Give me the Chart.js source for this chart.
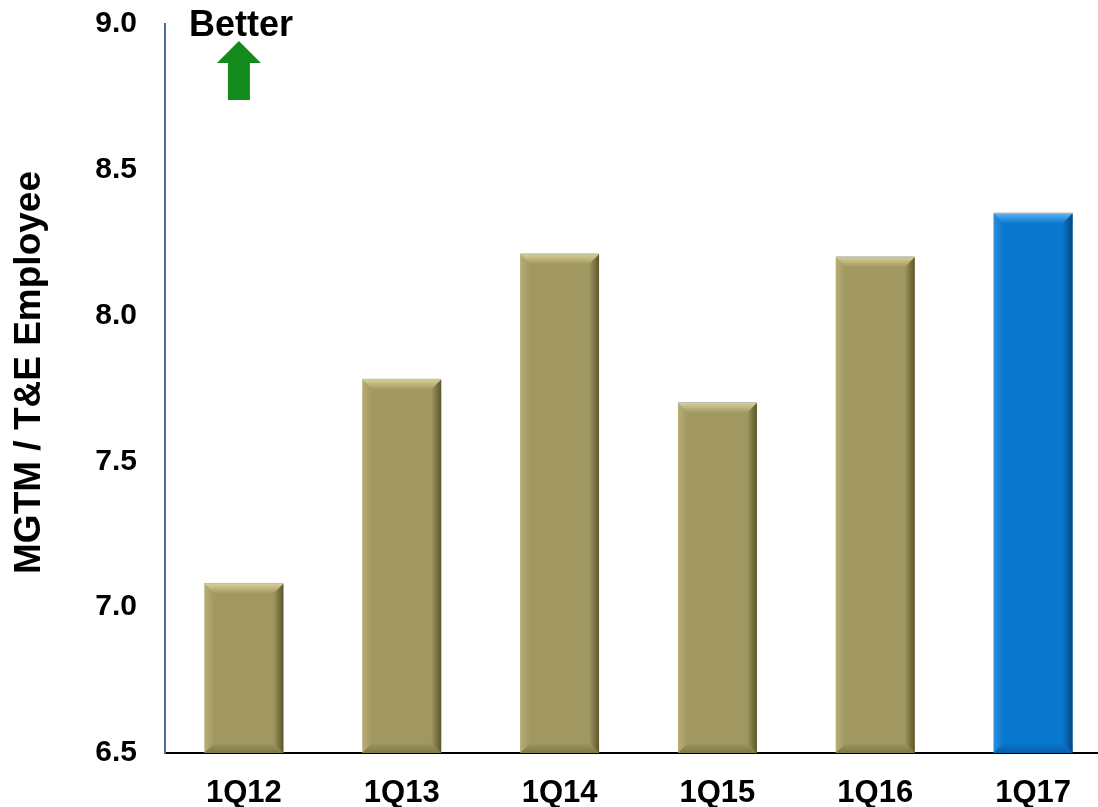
<!DOCTYPE html>
<html>
<head>
<meta charset="utf-8">
<script src="https://cdn.jsdelivr.net/npm/chart.js@4/dist/chart.umd.min.js"></script>
<style>
  html, body { margin: 0; padding: 0; background: #fff; overflow: hidden; }
  /* canvas is taller than the page; the extra top room holds the tick label space */
  #wrap { position: relative; width: 1112px; height: 829px; margin-top: -22px; }
</style>
</head>
<body>
<div id="wrap"><canvas id="mgtmChart"></canvas></div>
<script>
// quarters and MGTM per T&E employee
const quarters = ["1Q12", "1Q13", "1Q14", "1Q15", "1Q16", "1Q17"];
const mgtmPerEmployee = [7.08, 7.78, 8.21, 7.70, 8.20, 8.35];
const yTickValues = [6.5, 7.0, 7.5, 8.0, 8.5, 9.0];
const yTitle = "MGTM / T&E Employee";

const FONT = "'Liberation Sans', Arial, sans-serif";
const OLIVE = { face: "#a09860", light: "#d6ce94", dark: "#5c572c" };
const BLUE = { face: "#0a78cf", light: "#5ab2f2", dark: "#064482" };

function barTheme(i) {
  return i === quarters.length - 1 ? BLUE : OLIVE;
}

// bevelled edges on every bar, like the office-style 3d bars
const bevelPlugin = {
  id: "bevel",
  afterDatasetsDraw(chart) {
    const ctx = chart.ctx;
    const area = chart.chartArea;
    const meta = chart.getDatasetMeta(0);
    meta.data.forEach((bar, i) => {
      const p = bar.getProps(["x", "y", "width", "base"], true);
      const l = p.x - p.width / 2, r = p.x + p.width / 2, t = p.y;
      const b = Math.min(p.base, area.bottom);
      const d = 10;
      const th = barTheme(i);
      ctx.save();
      ctx.beginPath();
      ctx.rect(area.left, area.top - 2, area.right - area.left, area.bottom - area.top + 2);
      ctx.clip();
      // top face
      let g = ctx.createLinearGradient(0, t, 0, t + d);
      g.addColorStop(0, th.light);
      g.addColorStop(1, th.face);
      ctx.fillStyle = g;
      ctx.beginPath();
      ctx.moveTo(l, t); ctx.lineTo(r, t); ctx.lineTo(r - d, t + d); ctx.lineTo(l + d, t + d);
      ctx.closePath(); ctx.fill();
      // left face
      g = ctx.createLinearGradient(l, 0, l + d, 0);
      g.addColorStop(0, th.light);
      g.addColorStop(1, th.face);
      ctx.globalAlpha = 0.4;
      ctx.fillStyle = g;
      ctx.beginPath();
      ctx.moveTo(l, t); ctx.lineTo(l + d, t + d); ctx.lineTo(l + d, b - d); ctx.lineTo(l, b);
      ctx.closePath(); ctx.fill();
      ctx.globalAlpha = 1;
      // right face
      g = ctx.createLinearGradient(r - d, 0, r, 0);
      g.addColorStop(0, th.face);
      g.addColorStop(1, th.dark);
      ctx.fillStyle = g;
      ctx.beginPath();
      ctx.moveTo(r, t); ctx.lineTo(r, b); ctx.lineTo(r - d, b - d); ctx.lineTo(r - d, t + d);
      ctx.closePath(); ctx.fill();
      // bottom face
      g = ctx.createLinearGradient(0, b - d, 0, b);
      g.addColorStop(0, th.face);
      g.addColorStop(1, th.dark);
      ctx.globalAlpha = 0.5;
      ctx.fillStyle = g;
      ctx.beginPath();
      ctx.moveTo(l, b); ctx.lineTo(r, b); ctx.lineTo(r - d, b - d); ctx.lineTo(l + d, b - d);
      ctx.closePath(); ctx.fill();
      ctx.globalAlpha = 1;
      // thin outline on top
      ctx.strokeStyle = "#b9b9b0";
      ctx.lineWidth = 1;
      ctx.beginPath();
      ctx.moveTo(l, t - 0.5); ctx.lineTo(r, t - 0.5);
      ctx.stroke();
      ctx.restore();
    });
  }
};

// y title, "Better" label and the green arrow above the first bar
const notesPlugin = {
  id: "notes",
  afterDraw(chart) {
    const ctx = chart.ctx;
    const area = chart.chartArea;
    const cx = chart.scales.x.getPixelForValue(0) - 2;
    const top = area.top;
    ctx.save();
    ctx.fillStyle = "#000";
    ctx.textAlign = "center";
    ctx.textBaseline = "middle";

    ctx.save();
    ctx.translate(30, (area.top + area.bottom) / 2 - 16);
    ctx.rotate(-Math.PI / 2);
    ctx.font = "bold 37px " + FONT;
    ctx.fillText(yTitle, 0, 0);
    ctx.restore();

    ctx.font = "bold 36px " + FONT;
    ctx.fillText("Better", cx - 1, top + 2);
    ctx.fillStyle = "#138a1b";
    ctx.beginPath();
    ctx.moveTo(cx - 3, top + 17);
    ctx.lineTo(cx + 19, top + 39);
    ctx.lineTo(cx + 8, top + 39);
    ctx.lineTo(cx + 8, top + 76);
    ctx.lineTo(cx - 14, top + 76);
    ctx.lineTo(cx - 14, top + 39);
    ctx.lineTo(cx - 25, top + 39);
    ctx.closePath();
    ctx.fill();
    ctx.restore();
  }
};

new Chart(document.getElementById("mgtmChart"), {
  type: "bar",
  data: {
    labels: quarters,
    datasets: [{
      data: mgtmPerEmployee,
      backgroundColor: ctx => barTheme(ctx.dataIndex).face,
      borderWidth: 0,
      categoryPercentage: 1.0,
      barPercentage: 0.5
    }]
  },
  options: {
    responsive: true,
    maintainAspectRatio: false,
    animation: false,
    layout: { padding: { top: 1, right: 0, left: 0, bottom: 0 } },
    plugins: { legend: { display: false }, tooltip: { enabled: false } },
    scales: {
      x: {
        grid: { display: false, drawTicks: false },
        border: { display: true, color: "#000", width: 2 },
        ticks: { color: "#000", padding: 22, font: { family: FONT, size: 31, weight: "bold" } },
        afterFit(scale) { scale.height = 54; }
      },
      y: {
        min: yTickValues[0],
        max: yTickValues[yTickValues.length - 1],
        grid: { display: false, drawTicks: false },
        border: { display: true, color: "#4e6f9e", width: 2 },
        ticks: {
          stepSize: 0.5,
          color: "#000",
          padding: 28,
          font: { family: FONT, size: 30, weight: "bold" },
          callback: v => Number(v).toFixed(1)
        },
        afterFit(scale) { scale.width = 165; }
      }
    }
  },
  plugins: [bevelPlugin, notesPlugin]
});
</script>
</body>
</html>
